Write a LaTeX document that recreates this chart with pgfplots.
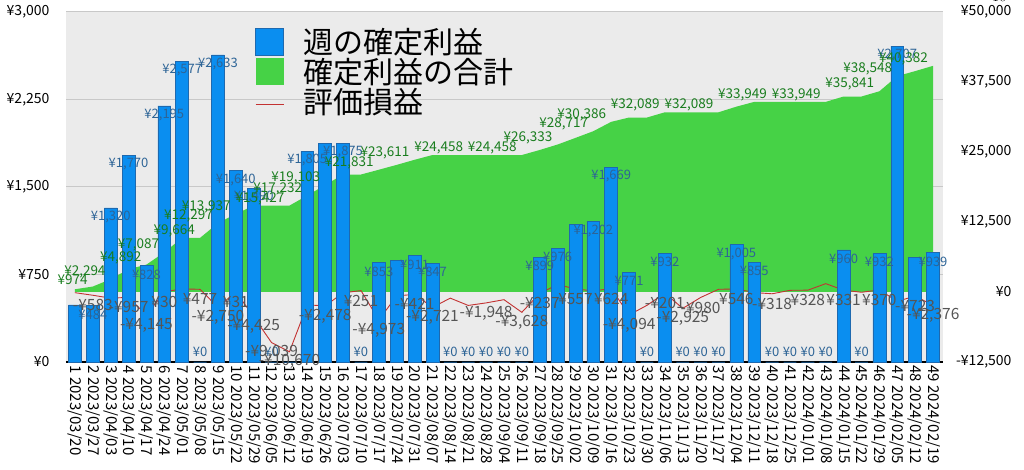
\documentclass[border=0pt]{standalone}
\usepackage{fontspec}
\setmainfont{Noto Sans CJK JP}
\usepackage{pgfplots}
\pgfplotsset{compat=1.18}
\definecolor{bgc}{RGB}{235,235,235}
\definecolor{gridc}{RGB}{200,200,200}
\definecolor{barblue}{RGB}{10,142,240}
\definecolor{baredge}{RGB}{30,105,175}
\definecolor{areagreen}{RGB}{70,210,70}
\definecolor{linered}{RGB}{195,50,50}
\definecolor{lblblue}{RGB}{45,100,150}
\definecolor{lblgreen}{RGB}{25,125,30}
\definecolor{lblgray}{RGB}{85,85,85}
\newcommand{\tickfont}{\fontsize{14}{16}\selectfont}
\pgfplotsset{base/.style={at={(0pt,0pt)}, anchor=south west, scale only axis,
  width=877pt, height=350pt, xmin=0.5, xmax=49.56,
  /pgf/number format/assume math mode=true}}
\begin{document}
\begin{tikzpicture}
\useasboundingbox (-66pt,-108pt) rectangle (958pt,362pt);
% ---------- axis 1: right scale, background, grid, area, line
\begin{axis}[base, ymin=-12500, ymax=50000,
  axis background/.style={fill=bgc},
  axis x line=none,
  axis y line*=right, y axis line style={draw=none},
  ytick={-12500,0,12500,25000,37500,50000},
  yticklabels={{-¥12,500},{¥0},{¥12,500},{¥25,000},{¥37,500},{¥50,000}},
  yticklabel style={anchor=east, xshift=72pt, font=\tickfont, inner ysep=0pt},
  major tick length=0pt, tick style={draw=none},
  extra y ticks={3125,18750,34375,50000}, extra y tick labels={},
  extra y tick style={grid=major, major grid style={gridc, line width=1pt}},
]
\addplot[fill=areagreen, draw=none] coordinates {
(1,490) (2,974) (3,2294) (4,4064) (5,4892) (6,7087) (7,9664) (8,9664) (9,12297) (10,13937)
(11,15427) (12,15427) (13,15427) (14,17232) (15,19103) (16,20978) (17,20978) (18,21831) (19,22700) (20,23611)
(21,24458) (22,24458) (23,24458) (24,24458) (25,24458) (26,24458) (27,25357) (28,26333) (29,27515) (30,28717)
(31,30386) (32,31157) (33,31157) (34,32089) (35,32089) (36,32089) (37,32089) (38,33094) (39,33949) (40,33949)
(41,33949) (42,33949) (43,33949) (44,34909) (45,34909) (46,35841) (47,38548) (48,39443) (49,40382)
} \closedcycle;
\addplot[linered, line width=0.9pt, mark=none] coordinates {
(1,-120) (2,-583) (3,-1100) (4,-957) (5,-4145) (6,30) (7,560) (8,477) (9,-2750) (10,31)
(11,-4425) (12,-9039) (13,-10670) (14,-2300) (15,-2478) (16,-150) (17,251) (18,-4973) (19,-700) (20,-421)
(21,-2721) (22,-1100) (23,-2400) (24,-1948) (25,-1370) (26,-3628) (27,-237) (28,1310) (29,557) (30,180)
(31,624) (32,-4094) (33,-2380) (34,-201) (35,-2925) (36,-980) (37,480) (38,546) (39,-100) (40,-318)
(41,300) (42,328) (43,1490) (44,331) (45,-50) (46,370) (47,-1670) (48,-723) (49,-2376)
};
\end{axis}
% ---------- axis 2: left scale, bars
\begin{axis}[base, ymin=0, ymax=3000, clip=false,
  axis x line*=bottom, x axis line style={-, black, line width=1.6pt},
  axis y line*=left, y axis line style={draw=none},
  ytick={0,750,1500,2250,3000},
  yticklabels={{¥0},{¥750},{¥1,500},{¥2,250},{¥3,000}},
  yticklabel style={font=\tickfont, xshift=-13pt, inner ysep=0pt},
  xtick={1,...,49},
  xticklabels={1 2023/03/20,2 2023/03/27,3 2023/04/03,4 2023/04/10,5 2023/04/17,6 2023/04/24,7 2023/05/01,8 2023/05/08,9 2023/05/15,10 2023/05/22,11 2023/05/29,12 2023/06/05,13 2023/06/12,14 2023/06/19,15 2023/06/26,16 2023/07/03,17 2023/07/10,18 2023/07/17,19 2023/07/24,20 2023/07/31,21 2023/08/07,22 2023/08/14,23 2023/08/21,24 2023/08/28,25 2023/09/04,26 2023/09/11,27 2023/09/18,28 2023/09/25,29 2023/10/02,30 2023/10/09,31 2023/10/16,32 2023/10/23,33 2023/10/30,34 2023/11/06,35 2023/11/13,36 2023/11/20,37 2023/11/27,38 2023/12/04,39 2023/12/11,40 2023/12/18,41 2023/12/25,42 2024/01/01,43 2024/01/08,44 2024/01/15,45 2024/01/22,46 2024/01/29,47 2024/02/05,48 2024/02/12,49 2024/02/19},
  xticklabel style={rotate=-90, anchor=west, font=\fontsize{15}{17}\selectfont},
  major tick length=0pt, tick style={draw=none},
]
\addplot[ybar, bar width=0.72, fill=barblue, draw=baredge, line width=0.6pt] coordinates {
(1,490) (2,484) (3,1320) (4,1770) (5,828) (6,2195) (7,2577) (8,0) (9,2633) (10,1640)
(11,1490) (12,0) (13,0) (14,1805) (15,1871) (16,1875) (17,0) (18,853) (19,869) (20,911)
(21,847) (22,0) (23,0) (24,0) (25,0) (26,0) (27,899) (28,976) (29,1182) (30,1202)
(31,1669) (32,771) (33,0) (34,932) (35,0) (36,0) (37,0) (38,1005) (39,855) (40,0)
(41,0) (42,0) (43,0) (44,960) (45,0) (46,932) (47,2707) (48,895) (49,939)
};
\addplot[draw=none, mark=none, forget plot, nodes near coords, point meta=explicit symbolic,
  every node near coord/.style={font=\fontsize{13}{15}\selectfont, text=lblblue, anchor=center, yshift=-9pt, inner sep=0pt}]
table[meta=l] {
x y l
2 484 ¥484
3 1320 ¥1,320
4 1770 ¥1,770
5 828 ¥828
6 2195 ¥2,195
7 2577 ¥2,577
9 2633 ¥2,633
10 1640 ¥1,640
11 1490 ¥1,490
14 1805 ¥1,805
16 1875 ¥1,875
18 853 ¥853
20 911 ¥911
21 847 ¥847
27 899 ¥899
28 976 ¥976
30 1202 ¥1,202
31 1669 ¥1,669
32 771 ¥771
34 932 ¥932
38 1005 ¥1,005
39 855 ¥855
44 960 ¥960
46 932 ¥932
47 2707 ¥2,707
49 939 ¥939
};
\addplot[draw=none, mark=none, forget plot, nodes near coords, point meta=explicit symbolic,
  every node near coord/.style={font=\fontsize{13}{15}\selectfont, text=lblblue, anchor=center, yshift=10pt, inner sep=0pt}]
table[meta=l] {
x y l
8 0 ¥0
12 0 ¥0
17 0 ¥0
22 0 ¥0
23 0 ¥0
24 0 ¥0
25 0 ¥0
26 0 ¥0
33 0 ¥0
35 0 ¥0
36 0 ¥0
37 0 ¥0
40 0 ¥0
41 0 ¥0
42 0 ¥0
43 0 ¥0
45 0 ¥0
};
\end{axis}
% ---------- axis 3: right scale, labels, legend
\begin{axis}[base, ymin=-12500, ymax=50000, hide axis, clip=false,
  legend cell align=left,
  legend style={at={(0.2155,0.955)}, anchor=north west, draw=none, fill=none,
    font=\fontsize{30}{30}\selectfont, inner sep=0pt, row sep=3pt,
    nodes={inner sep=0pt}},
]
\addlegendimage{legend image code/.code={\path[draw=none,fill=none] (0pt,0pt) -- (48pt,0pt); \fill[barblue, draw=baredge] (0pt,-13.5pt) rectangle (28pt,13.5pt);}}
\addlegendentry{週の確定利益}
\addlegendimage{legend image code/.code={\path[draw=none,fill=none] (0pt,0pt) -- (48pt,0pt); \fill[areagreen, draw=none] (0pt,-13.5pt) rectangle (28pt,13.5pt);}}
\addlegendentry{確定利益の合計}
\addlegendimage{legend image code/.code={\path[draw=none,fill=none] (0pt,0pt) -- (48pt,0pt); \draw[linered, line width=0.9pt] (0pt,-3pt) -- (28pt,-3pt);}}
\addlegendentry{評価損益}
\addplot[draw=none, mark=none, forget plot, nodes near coords, point meta=explicit symbolic,
  every node near coord/.style={font=\fontsize{13.5}{15}\selectfont, text=lblgreen, anchor=east, xshift=-5pt, yshift=7pt, inner sep=0pt}]
table[meta=l] {
x y l
2 974 ¥974
3 2294 ¥2,294
5 4892 ¥4,892
6 7087 ¥7,087
8 9664 ¥9,664
9 12297 ¥12,297
10 13937 ¥13,937
13 15427 ¥15,427
14 17232 ¥17,232
15 19103 ¥19,103
18 21831 ¥21,831
20 23611 ¥23,611
23 24458 ¥24,458
26 24458 ¥24,458
28 26333 ¥26,333
30 28717 ¥28,717
31 30386 ¥30,386
34 32089 ¥32,089
37 32089 ¥32,089
40 33949 ¥33,949
43 33949 ¥33,949
46 35841 ¥35,841
47 38548 ¥38,548
49 40382 ¥40,382
};
\addplot[draw=none, mark=none, forget plot, nodes near coords, point meta=explicit symbolic,
  every node near coord/.style={font=\fontsize{15.5}{17}\selectfont, text=lblgray, anchor=center, yshift=-10pt, inner sep=0pt}]
table[meta=l] {
x y l
2 -583 -¥583
4 -957 -¥957
5 -4145 -¥4,145
6 30 ¥30
8 477 ¥477
9 -2750 -¥2,750
10 31 ¥31
11 -4425 -¥4,425
12 -9039 -¥9,039
13 -10670 -¥10,670
15 -2478 -¥2,478
17 251 ¥251
18 -4973 -¥4,973
20 -421 -¥421
21 -2721 -¥2,721
24 -1948 -¥1,948
26 -3628 -¥3,628
27 -237 -¥237
29 557 ¥557
31 624 ¥624
32 -4094 -¥4,094
34 -201 -¥201
35 -2925 -¥2,925
36 -980 -¥980
38 546 ¥546
40 -318 -¥318
42 328 ¥328
44 331 ¥331
46 370 ¥370
48 -723 -¥723
49 -2376 -¥2,376
};
\end{axis}
\end{tikzpicture}
\end{document}
